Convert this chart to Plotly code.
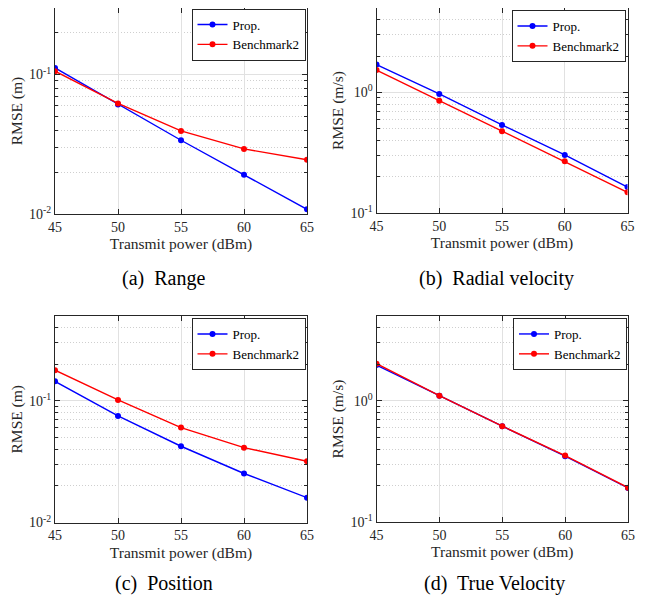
import plotly.graph_objects as go
import math

# ---------------- data ----------------
power_dbm = [45, 50, 55, 60, 65]

range_prop = [0.1115, 0.0610, 0.0338, 0.0191, 0.0108]
range_bench = [0.1057, 0.0620, 0.0394, 0.0293, 0.0245]

radvel_prop = [1.70, 0.97, 0.537, 0.303, 0.164]
radvel_bench = [1.53, 0.853, 0.475, 0.268, 0.1485]

pos_prop = [0.145, 0.0753, 0.0424, 0.0253, 0.0160]
pos_bench = [0.179, 0.102, 0.0604, 0.0413, 0.0319]

truevel_prop = [1.97, 1.10, 0.617, 0.349, 0.191]
truevel_bench = [2.02, 1.10, 0.617, 0.353, 0.192]

series_names = ["Prop.", "Benchmark2"]
captions = ["(a)\u00a0 Range", "(b)\u00a0 Radial velocity", "(c)\u00a0 Position", "(d)\u00a0 True Velocity"]
y_titles = ["RMSE (m)", "RMSE (m/s)", "RMSE (m)", "RMSE (m/s)"]
x_title = "Transmit power (dBm)"

x_ticks = [45, 50, 55, 60, 65]
y_ticks_m = [0.01, 0.1]
y_ticktext_m = ["10<sup>-2</sup>", "10<sup>-1</sup>"]
y_ticks_ms = [0.1, 1]
y_ticktext_ms = ["10<sup>-1</sup>", "10<sup>0</sup>"]

y_ranges = [(0.01, 0.3), (0.1, 5.0), (0.01, 0.5), (0.1, 5.0)]

# ---------------- style ----------------
OFF = 8                      # page body margin of the html page
W, H = 646 - OFF, 597 - OFF  # figure size so it fits the window
FONT = "Liberation Serif, Times New Roman, serif"
AX = "#262626"
BLUE = "#0000FF"
RED = "#FF0000"

# panel boxes in screen pixels: (left, right, top, bottom)
boxes = [
    (55, 307, 8, 214),
    (376.5, 627.5, 8, 213),
    (55, 307, 316, 522.5),
    (376.5, 628, 316, 522),
]
legend_pos = [(305.5, 8.5), (625.5, 10), (305.5, 318), (627, 318)]
caption_pos = [(163, 278), (497, 278), (164, 583), (494, 583)]

data_pairs = [
    (range_prop, range_bench),
    (radvel_prop, radvel_bench),
    (pos_prop, pos_bench),
    (truevel_prop, truevel_bench),
]


def px(xs):
    return (xs - OFF) / W


def py(ys):
    return 1 - (ys - OFF) / H


def minor_vals(lo, hi):
    vals = []
    e = math.floor(math.log10(lo))
    while 10 ** e <= hi * 1.0001:
        for m in range(2, 10):
            v = m * 10 ** e
            if lo < v <= hi * 1.0001:
                vals.append(v)
        e += 1
    return vals


fig = go.Figure()

for i in range(4):
    xa = "x" if i == 0 else f"x{i+1}"
    ya = "y" if i == 0 else f"y{i+1}"
    lg = "legend" if i == 0 else f"legend{i+1}"
    prop, bench = data_pairs[i]
    for vals, name, col in ((prop, series_names[0], BLUE), (bench, series_names[1], RED)):
        fig.add_trace(go.Scatter(
            x=power_dbm, y=vals, name=name, mode="lines+markers",
            line=dict(color=col, width=1.4),
            marker=dict(color=col, size=6, symbol="circle"),
            xaxis=xa, yaxis=ya, legend=lg, showlegend=True,
        ))

    l, r, t, b = boxes[i]
    lo, hi = y_ranges[i]
    if i in (0, 2):
        tv, tt = y_ticks_m, y_ticktext_m
    else:
        tv, tt = y_ticks_ms, y_ticktext_ms

    xkey = "xaxis" if i == 0 else f"xaxis{i+1}"
    ykey = "yaxis" if i == 0 else f"yaxis{i+1}"
    fig.update_layout({
        xkey: dict(
            domain=[px(l), px(r)], anchor=ya, range=[45, 65], automargin=False,
            tickvals=x_ticks, ticks="inside", ticklen=5, tickcolor=AX,
            mirror="allticks", showline=True, linecolor=AX, linewidth=1,
            showgrid=True, gridcolor="#e1e1e1", gridwidth=1, zeroline=False,
            tickfont=dict(family=FONT, size=14, color=AX),
            title=dict(text=x_title, font=dict(family=FONT, size=15.5, color=AX), standoff=4),
        ),
        ykey: dict(
            domain=[py(b), py(t)], anchor=xa, type="log", automargin=False,
            range=[math.log10(lo), math.log10(hi)],
            tickvals=tv, ticktext=tt, ticks="inside", ticklen=5, tickcolor=AX,
            mirror="allticks", showline=True, linecolor=AX, linewidth=1,
            showgrid=True, gridcolor="#e1e1e1", gridwidth=1, zeroline=False,
            tickfont=dict(family=FONT, size=14, color=AX),
            title=dict(text=y_titles[i], font=dict(family=FONT, size=15.5, color=AX), standoff=3),
            minor=dict(tickvals=minor_vals(lo, hi), ticks="inside", ticklen=3, tickcolor=AX,
                       showgrid=True, gridcolor="#cfcfcf", griddash="1px,2px", gridwidth=1),
        ),
    })

    lx, ly = legend_pos[i]
    fig.update_layout({
        lg: dict(
            x=px(lx), y=py(ly), xanchor="right", yanchor="top",
            bgcolor="white", bordercolor=AX, borderwidth=1,
            font=dict(family=FONT, size=13, color="black"),
            itemwidth=30, tracegroupgap=0,
        )
    })

    cx, cy = caption_pos[i]
    fig.add_annotation(
        text=captions[i], x=px(cx), y=py(cy), xref="paper", yref="paper",
        xanchor="center", yanchor="middle", showarrow=False,
        font=dict(family=FONT, size=20, color="black"),
    )

fig.update_layout(
    width=W, height=H, margin=dict(l=0, r=0, t=0, b=0),
    paper_bgcolor="white", plot_bgcolor="white",
)

fig.write_html("out.html")
